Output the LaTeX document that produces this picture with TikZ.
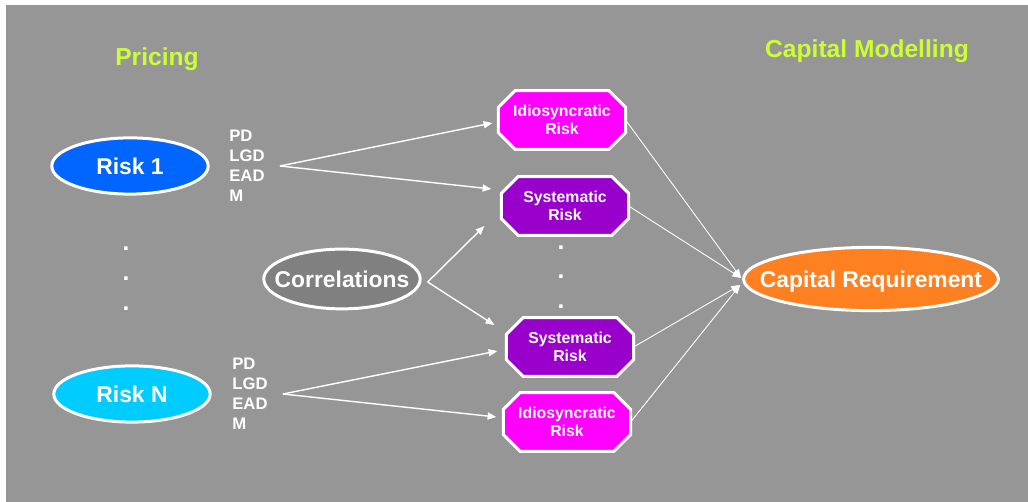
\documentclass[tikz,border=0pt]{standalone}
\usepackage{fontspec}
\setmainfont{Liberation Sans}
\usetikzlibrary{shapes.geometric,arrows.meta,backgrounds}

\begin{document}
\begin{tikzpicture}[x=0.02cm,y=-0.02cm,>={Triangle[length=5pt,width=4pt]}]
  % Local definitions
  \def\cut{9.5pt}

  % Colors
  \definecolor{slidegray}{RGB}{150,150,150}
  \definecolor{titlecolor}{RGB}{204,255,51}
  \definecolor{riskonecolor}{RGB}{0,102,255}
  \definecolor{riskncolor}{RGB}{0,204,255}
  \definecolor{corrcolor}{RGB}{128,128,128}
  \definecolor{idiocolor}{RGB}{255,0,255}
  \definecolor{syscolor}{RGB}{153,0,204}
  \definecolor{capcolor}{RGB}{255,128,32}

  % Styles
  \tikzstyle{title text}=[text=titlecolor,font=\fontsize{14}{17}\selectfont\bfseries]
  \tikzstyle{risk}=[ellipse,draw=white,line width=1.7pt,text=white,
    minimum width=89pt,minimum height=32pt,inner xsep=-14pt,inner ysep=0pt,
    text depth=0pt,font=\fontsize{13}{15}\selectfont\bfseries]
  \tikzstyle{riskfactor}=[rectangle,text=white,minimum width=72pt,
    minimum height=33pt,align=center,inner sep=0pt,
    font=\fontsize{9}{10.2}\selectfont\bfseries]
  \tikzstyle{factor outline}=[draw=white,line width=1.7pt]
  \tikzstyle{param list}=[anchor=west,align=left,text=white,inner sep=0pt,
    font=\fontsize{9.5}{11.3}\selectfont\bfseries]
  \tikzstyle{dotmark}=[anchor=base,text=white,inner sep=0pt,
    font=\fontsize{14}{17}\selectfont\bfseries]
  \tikzstyle{feed}=[->,white,line width=0.8pt]
  \tikzstyle{collect}=[->,white,line width=0.5pt]

  % The graphic
  \useasboundingbox (0,0) rectangle (1028,502);
  \begin{scope}[on background layer]
    \fill[slidegray] (6,5) rectangle (1028,502);
  \end{scope}

  \node[title text] (pricing) at (157,59) {Pricing};
  \node[title text] (capmod) at (867,51) {Capital Modelling};

  \node[risk,fill=riskonecolor] (risk1) at (130,166) {Risk 1};
  \node[risk,fill=riskncolor] (riskn) at (132,394) {Risk N};
  \node[risk,fill=corrcolor,minimum height=34pt] (corr) at (342,279) {Correlations};
  \node[risk,fill=capcolor,minimum width=145pt,minimum height=36pt]
    (capreq) at (871,279) {Capital Requirement};

  \node[param list] (params1) at (229,166) {PD\\LGD\\EAD\\M};
  \node[param list] (paramsn) at (232,394) {PD\\LGD\\EAD\\M};

  \node[riskfactor] (idio1) at (562,120) {Idiosyncratic\\Risk};
  \node[riskfactor] (sys1) at (565,206) {Systematic\\Risk};
  \node[riskfactor] (sys2) at (570,347) {Systematic\\Risk};
  \node[riskfactor] (idio2) at (567,422) {Idiosyncratic\\Risk};

  \begin{scope}[on background layer]
    \foreach \n/\c in {idio1/idiocolor,sys1/syscolor,sys2/syscolor,idio2/idiocolor}
      \filldraw[factor outline,fill=\c]
        ([xshift=\cut]\n.north west) -- ([xshift=-\cut]\n.north east)
        -- ([yshift=-\cut]\n.north east) -- ([yshift=\cut]\n.south east)
        -- ([xshift=-\cut]\n.south east) -- ([xshift=\cut]\n.south west)
        -- ([yshift=\cut]\n.south west) -- ([yshift=-\cut]\n.north west) -- cycle;
  \end{scope}

  \foreach \y [count=\i] in {251,281,311}
    \node[dotmark] (ldot\i) at (126,\y) {.};
  \foreach \y [count=\i] in {250,279,309}
    \node[dotmark] (mdot\i) at (561,\y) {.};

  \coordinate (fork1) at ([shift={(15,0)}]params1.east);
  \coordinate (forkn) at ([shift={(15,0)}]paramsn.east);
  \coordinate (forkc) at ([shift={(6,3)}]corr.east);

  \draw[feed] (fork1) -- ([shift={(-6,3)}]idio1.west);
  \draw[feed] (fork1) -- ([shift={(-10,-17)}]sys1.west);
  \draw[feed] (forkc) -- ([shift={(-17,20)}]sys1.west);
  \draw[feed] (forkc) -- ([shift={(-12,-22)}]sys2.west);
  \draw[feed] (forkn) -- ([shift={(-9,4)}]sys2.west);
  \draw[feed] (forkn) -- ([shift={(-7,-5)}]idio2.west);

  \draw[collect] (idio1.east) -- ([shift={(-1,-1)}]capreq.west);
  \draw[collect] (sys1.east) -- ([shift={(-1,-1)}]capreq.west);
  \draw[collect] (sys2.east) -- ([shift={(-2,6)}]capreq.west);
  \draw[collect] (idio2.east) -- ([shift={(-2,6)}]capreq.west);
\end{tikzpicture}
\end{document}
